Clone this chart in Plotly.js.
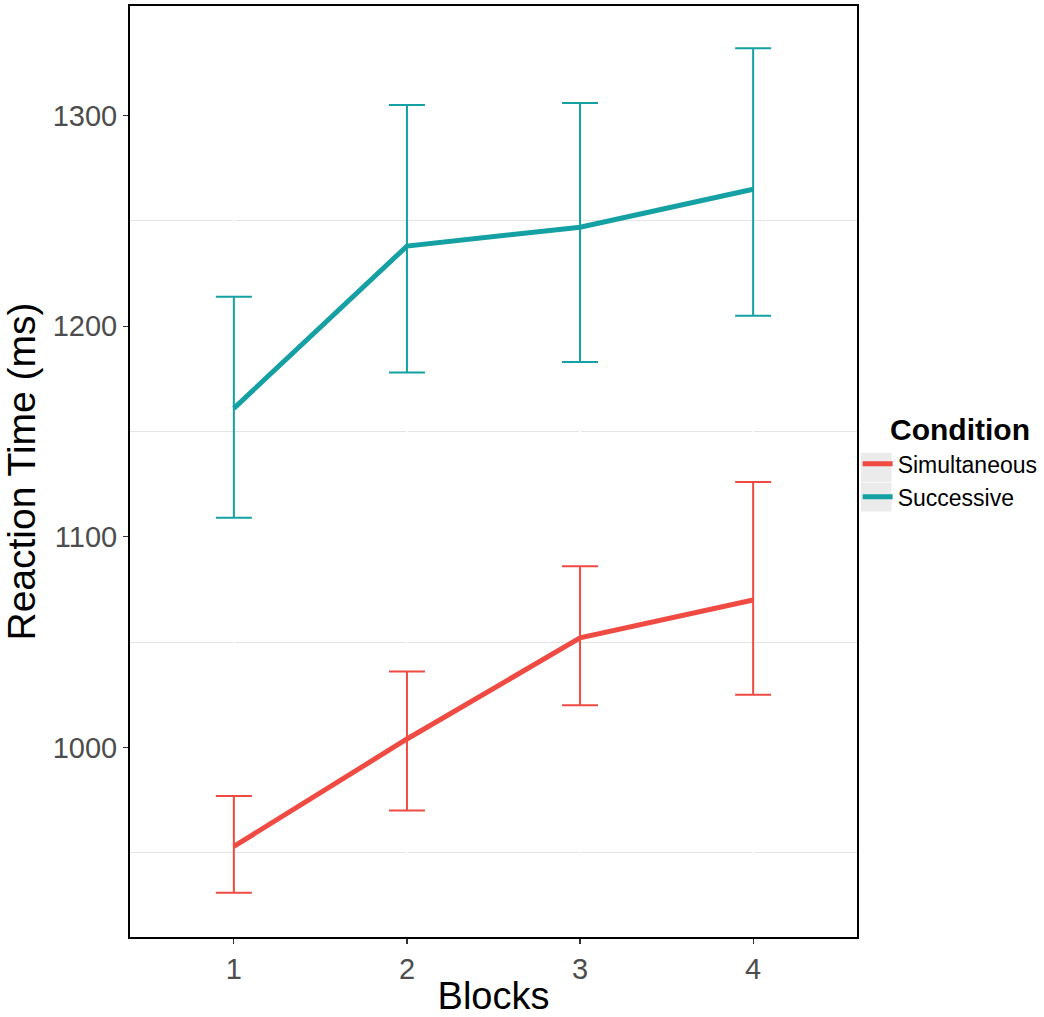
<html>
<head>
    <meta charset="UTF-8">
    <script src="https://cdn.plot.ly/plotly-3.0.1.min.js"></script>
    <style>
        body { margin: 0; background: white; }
    </style>
</head>
<body>
    <div id="plot"></div>
    <script>
        // values
        const blocks = [1, 2, 3, 4];

        const simMean = [953, 1004, 1052, 1070];
        const simUpper = [977, 1036, 1086, 1126];
        const simLower = [931, 970, 1020, 1025];

        const sucMean = [1161, 1238, 1247, 1265];
        const sucUpper = [1214, 1305, 1306, 1332];
        const sucLower = [1109, 1178, 1183, 1205];

        const seriesNames = ['Simultaneous', 'Successive'];
        const yTicks = [1000, 1100, 1200, 1300];

        const red = '#f04b43';
        const teal = '#15a0a3';

        function makeTrace(name, mean, upper, lower, color) {
            return {
                x: blocks,
                y: mean,
                name: name,
                type: 'scatter',
                mode: 'lines',
                line: { color: color, width: 5 },
                error_y: {
                    type: 'data',
                    symmetric: false,
                    array: upper.map(function (u, i) { return u - mean[i] }),
                    arrayminus: lower.map(function (l, i) { return mean[i] - l }),
                    color: color,
                    thickness: 2,
                    width: 18
                }
            }
        }

        const data = [
            makeTrace(seriesNames[0], simMean, simUpper, simLower, red),
            makeTrace(seriesNames[1], sucMean, sucUpper, sucLower, teal)
        ];

        const fontFamily = 'Liberation Sans, Arial, sans-serif';
        const tickFont = { family: fontFamily, size: 29, color: '#4d4d4d' };

        // grey backgrounds behind the legend keys (ggplot style)
        function keyBox(top) {
            return {
                type: 'rect', xref: 'paper', yref: 'paper',
                x0: 1.0055, x1: 1.0475, y0: top - 0.031, y1: top,
                fillcolor: '#ebebeb', line: { width: 0 }, layer: 'below'
            }
        }

        const layout = {
            width: 1044,
            height: 1017,
            margin: { l: 130, r: 187, t: 6, b: 80 },
            paper_bgcolor: 'white',
            plot_bgcolor: 'white',
            showlegend: true,
            shapes: [keyBox(0.520), keyBox(0.488)],
            annotations: [{
                text: '<b>Condition</b>',
                xref: 'paper', yref: 'paper',
                x: 1.1417, y: 0.5446,
                xanchor: 'center', yanchor: 'middle',
                showarrow: false,
                font: { family: fontFamily, size: 30, color: 'black' }
            }],
            xaxis: {
                range: [0.4, 4.6],
                tickvals: blocks,
                ticktext: blocks.map(String),
                ticks: 'outside',
                ticklen: 5,
                tickcolor: '#333',
                tickwidth: 1.2,
                tickfont: tickFont,
                showgrid: true,
                gridcolor: 'white',
                gridwidth: 2,
                showline: true,
                linecolor: 'black',
                linewidth: 2,
                mirror: true,
                zeroline: false,
                title: {
                    text: 'Blocks',
                    font: { family: fontFamily, size: 38, color: 'black' },
                    standoff: 6
                }
            },
            yaxis: {
                range: [910, 1352],
                tickvals: yTicks,
                ticks: 'outside',
                ticklen: 5,
                tickcolor: '#333',
                tickwidth: 1.2,
                tickfont: tickFont,
                showgrid: false,
                minor: {
                    tickvals: [950, 1050, 1150, 1250],
                    showgrid: true,
                    gridcolor: '#e4e4e4',
                    gridwidth: 1.2,
                    ticks: ''
                },
                showline: true,
                linecolor: 'black',
                linewidth: 2,
                mirror: true,
                zeroline: false,
                title: {
                    text: 'Reaction Time (ms)',
                    font: { family: fontFamily, size: 39, color: 'black' },
                    standoff: 8
                }
            },
            legend: {
                xref: 'container',
                yref: 'container',
                x: 0.8215,
                xanchor: 'left',
                y: 0.565,
                yanchor: 'top',
                font: { family: fontFamily, size: 23, color: 'black' },
                bgcolor: 'rgba(0,0,0,0)',
                itemwidth: 30,
                tracegroupgap: 0
            }
        };

        Plotly.newPlot('plot', data, layout, { staticPlot: true });
    </script>
</body>
</html>
